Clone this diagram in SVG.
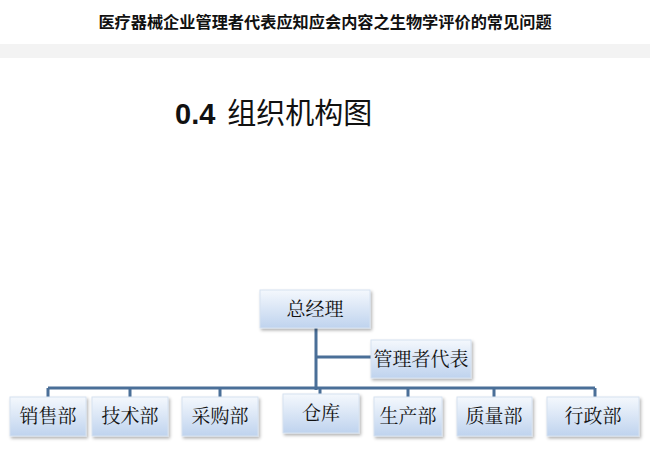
<svg xmlns="http://www.w3.org/2000/svg" width="650" height="456" viewBox="0 0 650 456">
<style>
.b{fill:url(#g);stroke:#d6e2f0;stroke-width:1;filter:url(#s)}
.t{font-family:"Noto Serif CJK SC","Noto Sans CJK SC",serif;font-size:19px;fill:#111;text-anchor:middle}
.c{stroke:#4a6f98;stroke-width:3;fill:none}
</style>
<defs>
<linearGradient id="g" x1="0" y1="0" x2="0" y2="1"><stop offset="0" stop-color="#f4f8fd"/><stop offset="1" stop-color="#bfd3ee"/></linearGradient>
<filter id="s" x="-10%" y="-10%" width="130%" height="140%"><feDropShadow dx="1.5" dy="2" stdDeviation="1.5" flood-color="#000" flood-opacity="0.3"/></filter>
</defs>
<rect width="650" height="456" fill="#fff"/>
<text x="325" y="28" text-anchor="middle" font-family="'Noto Sans CJK SC',sans-serif" font-weight="bold" font-size="16.2" fill="#111">医疗器械企业管理者代表应知应会内容之生物学评价的常见问题</text>
<rect x="0" y="44" width="650" height="14" fill="#f3f3f3"/>
<text x="175" y="124" font-family="'Liberation Sans','Noto Sans CJK SC',sans-serif" font-size="29" fill="#111"><tspan font-weight="bold">0.4</tspan><tspan dx="12">组织机构图</tspan></text>
<g id="connectors">
<path class="c" d="M316 328V390M316 357H371M48 388H595M48 388V398M130 388V398M220 388V398M320 388V395M408 388V398M494 388V398M595 388V398"/>
</g>
<g id="n0"><rect class="b" x="260" y="290" width="110" height="38"/><text class="t" x="315" y="316">总经理</text></g>
<g id="n1"><rect class="b" x="371" y="340" width="100" height="38"/><text class="t" x="421" y="366">管理者代表</text></g>
<g id="n2"><rect class="b" x="10" y="397" width="76" height="39"/><text class="t" x="48" y="423">销售部</text></g>
<g id="n3"><rect class="b" x="92" y="397" width="76" height="39"/><text class="t" x="130" y="423">技术部</text></g>
<g id="n4"><rect class="b" x="182" y="397" width="76" height="39"/><text class="t" x="220" y="423">采购部</text></g>
<g id="n5"><rect class="b" x="283" y="394" width="76" height="39"/><text class="t" x="321" y="420">仓库</text></g>
<g id="n6"><rect class="b" x="374" y="397" width="68" height="39"/><text class="t" x="408" y="423">生产部</text></g>
<g id="n7"><rect class="b" x="457" y="397" width="75" height="39"/><text class="t" x="494" y="423">质量部</text></g>
<g id="n8"><rect class="b" x="547" y="397" width="92" height="39"/><text class="t" x="593" y="423">行政部</text></g>
</svg>
